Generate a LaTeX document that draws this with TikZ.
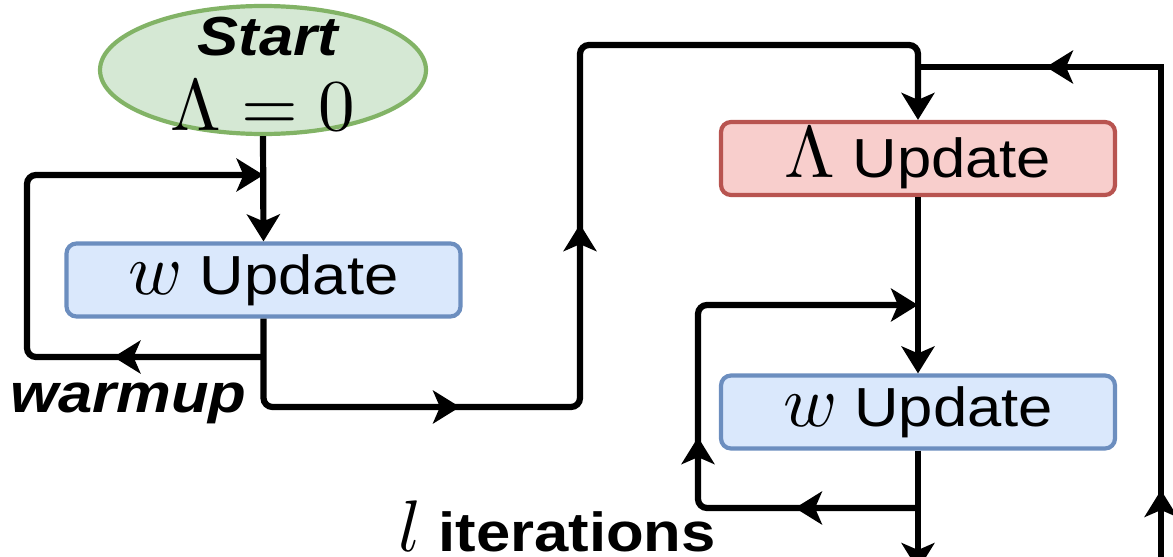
\documentclass[tikz,border=0pt]{standalone}
\usepackage{graphicx}
\usepackage{fontspec}
\newfontfamily\lsans[FakeStretch=1.12]{Liberation Sans}
\usetikzlibrary{arrows.meta,shapes.geometric,decorations.markings}

\definecolor{greenfill}{HTML}{D5E8D4}
\definecolor{greenline}{HTML}{82B366}
\definecolor{bluefill}{HTML}{DAE8FC}
\definecolor{blueline}{HTML}{6C8EBF}
\definecolor{redfill}{HTML}{F8CECC}
\definecolor{redline}{HTML}{B85450}

% text and formula sizes
\newcommand{\labeltext}{\lsans\fontsize{55}{60}\selectfont}
\newcommand{\bigmath}[1]{\scalebox{7.3}{\fontsize{10}{12}\selectfont$#1$}}

\tikzset{
  arrowhd/.tip={Stealth[length=27pt,width=33pt,inset=7pt]},
  conn/.style={line width=6.2pt, rounded corners=9pt, black},
  flow/.style={conn, -arrowhd},
  midtip/.style={postaction={decorate, decoration={markings,
      mark=at position #1 with {\arrow{arrowhd}}}}},
  updbox/.style={rectangle, rounded corners=10pt, line width=4.2pt,
    minimum width=394pt, minimum height=73pt, inner sep=0pt, font=\labeltext},
  wbox/.style={updbox, draw=blueline, fill=bluefill},
  lbox/.style={updbox, draw=redline, fill=redfill},
  startshape/.style={ellipse, draw=greenline, fill=greenfill, line width=4.2pt,
    minimum width=326pt, minimum height=128pt, inner sep=0pt},
  caption/.style={inner sep=0pt, font=\labeltext\bfseries\itshape},
  boldlabel/.style={inner sep=0pt, font=\labeltext\bfseries},
}

\begin{document}
\begin{tikzpicture}[x=1pt,y=-1pt]
\useasboundingbox (0,0) rectangle (1173,557);

% start ellipse and its two lines of text
\node[startshape] (start) at (263,70) {};
\node[caption, anchor=base] (starttitle) at (268,55) {Start};
\node[inner sep=0pt, anchor=base] (startvalue) at (263,130) {\bigmath{\Lambda=0}};

% update boxes
\node[wbox] (w1) at (263.5,280) {\bigmath{w} Update};
\node[lbox] (lam) at (918,158.5) {\bigmath{\Lambda} Update};
\node[wbox] (w2) at (918,412) {\bigmath{w} Update};

% labels
\node[caption, anchor=base west] (warm) at (10,412) {warmup};
\node[boldlabel, anchor=base west] (iter) at (398,551)
  {\bigmath{l} iterations};

% junctions and corners
\coordinate (j0) at (263.5,175);
\coordinate (j1) at (263.5,357);
\coordinate (j2) at (918,305);
\coordinate (j3) at (918,508);
\coordinate (j4) at (918,67);
\coordinate (down) at (918,570);
\coordinate (up) at (1161,580);

% warm-up phase
\draw[flow] (start.south) -- (w1.north);
\draw[flow, midtip=150pt] (j1) -- (27,357) -- (27,175) -- (j0);
\draw[flow, midtip=281pt, midtip=580pt]
  (w1.south) -- (263.5,407) -- (580,407) -- (580,45) -- (918,45) -- (lam.north);

% alternating phase
\draw[flow] (lam.south) -- (w2.north);
\draw[flow, midtip=123pt, midtip=287pt] (j3) -- (698,508) -- (698,305) -- (j2);
\draw[flow] (w2.south) -- (down);
\draw[conn, sharp corners, midtip=90pt, midtip=628pt] (up) -- (1161,67) -- (j4);
\end{tikzpicture}
\end{document}
